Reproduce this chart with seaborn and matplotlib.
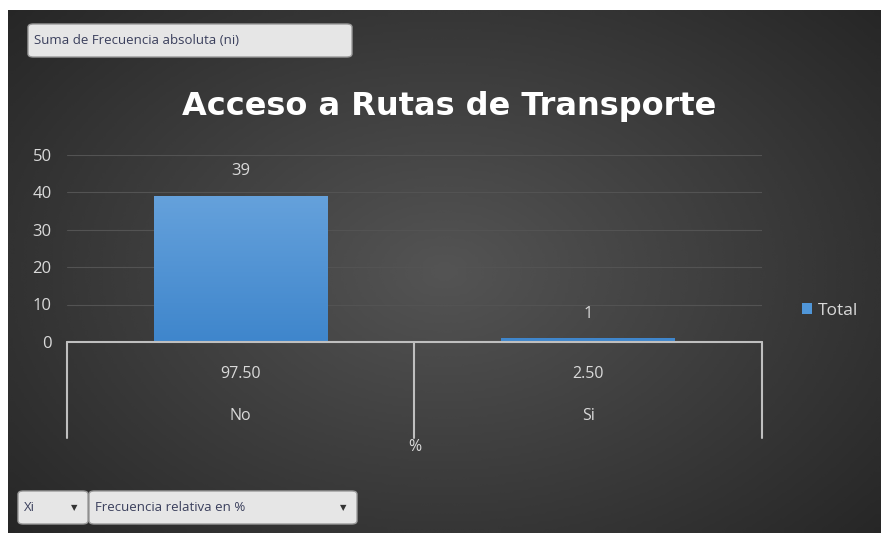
import numpy as np
import pandas as pd
import matplotlib
matplotlib.use("Agg")
import matplotlib.pyplot as plt
from matplotlib.patches import FancyBboxPatch
import matplotlib.transforms as mtransforms
from matplotlib.colors import LinearSegmentedColormap
import seaborn as sns

# data
categories = ["No", "Si"]
totals = [39, 1]
percent_labels = ["97.50", "2.50"]
y_ticks = [0, 10, 20, 30, 40, 50]

TEXT = "#d9d9d9"
BAR = "#5096d8"

sns.set_theme(style="dark")
plt.rcParams["font.family"] = ["Open Sans", "DejaVu Sans"]

W, H = 881, 533
fig = plt.figure(figsize=(W / 100, H / 100), dpi=100)
fig.patch.set_facecolor("white")

# dark radial background panel
bg = fig.add_axes([8 / W, 0, 1 - 8 / W, 1 - 10 / H])
yy, xx = np.mgrid[0:1:200j, 0:1:300j]
r = np.sqrt(((xx - 0.5) / 0.75) ** 2 + ((yy - 0.5) / 0.85) ** 2)
shade = np.clip(0.33 - 0.2 * r, 0.15, 0.33)
bg.imshow(shade, cmap="gray", vmin=0, vmax=1, aspect="auto",
          extent=[0, 1, 0, 1], interpolation="bicubic")
bg.set_axis_off()

# main plot area
ax = fig.add_axes([67 / W, 1 - 342 / H, (762 - 67) / W, (342 - 154.5) / H])
ax.patch.set_alpha(0)
df = pd.DataFrame({"Xi": categories, "Total": totals})
sns.barplot(data=df, x="Xi", y="Total", color=BAR, width=0.5,
            saturation=1, linewidth=0, ax=ax, label="Total")
ax.set_ylim(0, 50)
ax.set_xlim(-0.5, 1.5)
ax.set_yticks(y_ticks)
ax.yaxis.grid(True, color="#535353", linewidth=0.8)
ax.set_axisbelow(True)
ax.tick_params(axis="y", length=0, pad=11, labelsize=12, labelcolor=TEXT)
ax.set_xticks([])
ax.set_xlabel("")
ax.set_ylabel("")
for s in ax.spines.values():
    s.set_visible(False)

# vertical gradient fill on bars
bar_cmap = LinearSegmentedColormap.from_list("bar", ["#3f86cc", "#70a9e0"])
grad = np.linspace(0, 1, 100).reshape(-1, 1)
for p in ax.patches:
    x0 = p.get_x()
    im = ax.imshow(grad, cmap=bar_cmap, origin="lower", aspect="auto",
                   extent=[x0, x0 + p.get_width(), 0, 50], zorder=p.get_zorder())
    im.set_clip_path(p)
ax.set_xlim(-0.5, 1.5)
ax.set_ylim(0, 50)
ax.axhline(0, color="#bfbfbf", linewidth=1.5, clip_on=False, zorder=5)

ax.bar_label(ax.containers[0], padding=12, color=TEXT, fontsize=12)

# two-level category axis
trans = mtransforms.blended_transform_factory(ax.transData, ax.transAxes)
for xd in [-0.5, 0.5, 1.5]:
    ax.plot([xd, xd], [0, -0.512], transform=trans, color="#bfbfbf",
            linewidth=1.5, clip_on=False)
for i, (cat, pct) in enumerate(zip(categories, percent_labels)):
    ax.text(i, -0.171, pct, transform=trans, ha="center", va="center",
            color=TEXT, fontsize=11.5)
    ax.text(i, -0.395, cat, transform=trans, ha="center", va="center",
            color=TEXT, fontsize=11.5)
ax.text(0.5, -0.56, "%", transform=trans, ha="center", va="center",
        color=TEXT, fontsize=11.5)

# legend
leg = ax.legend(loc="center left", bbox_to_anchor=(1.035, 0.165),
                frameon=False, handlelength=0.6, handleheight=0.6,
                handletextpad=0.3, fontsize=12.5)
for h in leg.legend_handles:
    h.set_edgecolor("none")
    h.set_facecolor(BAR)
for t in leg.get_texts():
    t.set_color(TEXT)

# title
fig.text(449 / W, 1 - 106 / H, "Acceso a Rutas de Transporte", ha="center",
         va="center", color="white", fontsize=23, fontweight="bold",
         family="DejaVu Sans")


# pivot field buttons
def button(x0, y0, x1, y1, label, arrow=False):
    box = FancyBboxPatch((x0 / W, 1 - y1 / H), (x1 - x0) / W, (y1 - y0) / H,
                         boxstyle="round,pad=0,rounding_size=0.006",
                         transform=fig.transFigure, facecolor="#e6e6e6",
                         edgecolor="#9a9a9a", linewidth=1)
    fig.patches.append(box)
    fig.text((x0 + 6) / W, 1 - (y0 + y1) / 2 / H, label, ha="left",
             va="center", color="#3a3f5c", fontsize=9.5)
    if arrow:
        fig.text((x1 - 14) / W, 1 - (y0 + y1) / 2 / H, "\u25bc", ha="center",
                 va="center", color="#333333", fontsize=6,
                 family="DejaVu Sans")


button(28, 24, 352, 57, "Suma de Frecuencia absoluta (ni)")
button(18, 491, 88, 524, "Xi", arrow=True)
button(89, 491, 357, 524, "Frecuencia relativa en %", arrow=True)

fig.savefig("out.png", dpi=100, facecolor=fig.get_facecolor())
